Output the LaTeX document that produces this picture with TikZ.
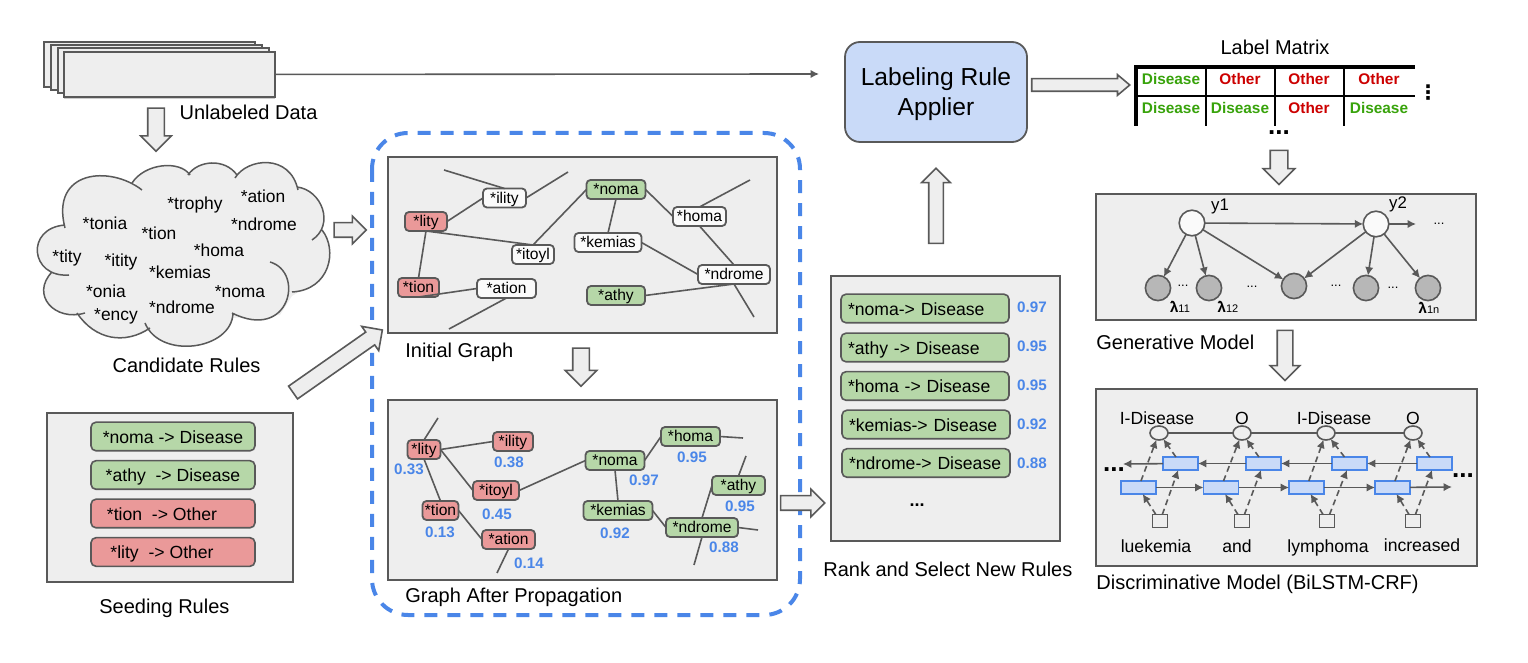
\documentclass[tikz,border=0pt]{standalone}
\usepackage{fontspec}
\setmainfont{Liberation Sans}
\newfontfamily\dvsans{DejaVu Sans}
\usepackage{xcolor}
\usepackage{tikz}
\usetikzlibrary{shapes,arrows,arrows.meta,positioning,shadows}

\definecolor{panelgray}{HTML}{EEEEEE}
\definecolor{edgegray}{HTML}{595959}
\definecolor{rulegreen}{HTML}{B6D7A8}
\definecolor{rulered}{HTML}{EA9999}
\definecolor{scoreblue}{HTML}{4A86E8}
\definecolor{paleblue}{HTML}{C9DAF8}
\definecolor{nodegray}{HTML}{B7B7B7}
\definecolor{matgreen}{HTML}{38A30B}
\definecolor{matred}{HTML}{CC0000}

\newcommand{\lambar}[1]{\textbf{\rlap{\raisebox{3.7pt}{\fontsize{4.5}{5}\selectfont -}}λ}{\fontsize{5.5}{6}\selectfont #1}}

\begin{document}
\begin{tikzpicture}[
    x=0.5pt, y=-0.5pt,
    panel/.style={draw=edgegray, fill=panelgray, line width=1pt, rectangle, inner sep=0pt, outer sep=0pt},
    sheet/.style={panel, minimum width=105.5pt, minimum height=22.5pt},
    caption/.style={inner sep=0pt, font=\fontsize{10}{12}\selectfont, text height=8.6pt, text depth=1.5pt},
    bigarrow/.style 2 args={draw=edgegray, fill=panelgray, line width=0.8pt, single arrow, inner sep=#1, outer sep=0pt, single arrow head extend=#2, single arrow tip angle=90},
    cloudline/.style={draw=edgegray, line width=0.75pt},
    cloudword/.style={inner sep=0pt, font=\fontsize{8.7}{10}\selectfont, text height=7.5pt, text depth=1pt},
    graphnode/.style={draw=edgegray, line width=0.9pt, rectangle, rounded corners=2pt, inner sep=0pt, outer sep=0pt, minimum height=9.5pt, font=\fontsize{7.8}{9}\selectfont, text height=6.3pt, text depth=1.1pt},
    whitenode/.style={graphnode, fill=white!70!panelgray},
    greennode/.style={graphnode, fill=rulegreen},
    rednode/.style={graphnode, fill=rulered},
    edge/.style={draw=edgegray, line width=0.8pt},
    score/.style={inner sep=0pt, text=scoreblue, font=\bfseries\fontsize{7.6}{9}\selectfont},
    rulebox/.style={draw=edgegray, line width=0.8pt, rectangle, rounded corners=2.5pt, inner sep=0pt, outer sep=0pt, minimum height=14.3pt, font=\fontsize{8.8}{10.5}\selectfont, text height=7.6pt, text depth=1pt},
    seedbox/.style={rulebox, minimum width=82pt},
    rankbox/.style={rulebox, fill=rulegreen, inner xsep=3.5pt, text width=77pt, align=left},
    cellword/.style={inner sep=0pt, font=\bfseries\fontsize{7.7}{9}\selectfont, text height=6.6pt, text depth=0pt},
    bigdots/.style={inner sep=0pt, font=\bfseries\fontsize{13}{13}\selectfont},
    minidots/.style={inner sep=0pt, font=\fontsize{6.5}{7}\selectfont},
    latent/.style={draw=edgegray, fill=white!70!panelgray, line width=0.8pt, circle, inner sep=0pt, outer sep=0pt, minimum size=12.8pt},
    observed/.style={draw=edgegray, fill=nodegray, line width=0.8pt, circle, inner sep=0pt, outer sep=0pt, minimum size=12.6pt},
    smallword/.style={inner sep=0pt, font=\fontsize{8.4}{10}\selectfont},
    lambdaword/.style={inner sep=0pt, font=\fontsize{7.5}{9}\selectfont},
    tagnode/.style={draw=edgegray, fill=panelgray, line width=0.8pt, ellipse, inner sep=0pt, outer sep=0pt, minimum width=9pt, minimum height=7pt},
    lstmcell/.style={draw=scoreblue, fill=paleblue, line width=0.9pt, rectangle, inner sep=0pt, outer sep=0pt, minimum width=17.5pt, minimum height=6.5pt},
    wordbox/.style={draw=edgegray, line width=0.8pt, rectangle, inner sep=0pt, outer sep=0pt, minimum width=7.5pt, minimum height=6.5pt},
    discword/.style={inner sep=0pt, font=\fontsize{8.8}{10}\selectfont, text height=7.6pt, text depth=1pt},
    arrow/.style={-{Latex[length=4.2pt,width=4.2pt]}, draw=edgegray, line width=0.8pt},
    dasharrow/.style={arrow, dash pattern=on 3pt off 2pt}
]
    \useasboundingbox (0,0) rectangle (1528,663);

    \draw[draw=scoreblue, line width=2pt, rounded corners=18pt, dash pattern=on 6.5pt off 5pt] (372,133) rectangle (800,615);

    \node[sheet] at (149,65) (sheetA) {};
    \node[sheet] at (156,68) (sheetB) {};
    \node[sheet] at (163,71) (sheetC) {};
    \node[sheet, drop shadow={shadow xshift=0.3pt, shadow yshift=-1pt, fill=black!40}] at (169,74.5) (sheetD) {};
    \node[caption] at (248.5,112) (datalabel) {Unlabeled Data};
    \node[bigarrow={3.75pt}{3.5pt}, minimum height=21.5pt, shape border rotate=270] at (156,125.5) (arrowdata) {};

    \fill[panelgray] (60,230) -- (100,190) -- (133,187) -- (145,172) -- (190,175) -- (237,175) -- (290,172) -- (300,192) -- (318,222) -- (328,255) -- (318,280) -- (292,296) -- (280,315) -- (232,318) -- (200,340) -- (150,330) -- (120,332) -- (80,312) -- (55,295) -- (55,272) -- (42,255) -- cycle;
    \draw[cloudline, fill=panelgray]
        (65,228) .. controls (50,170) and (110,165) .. (142,190)
        (132,183) .. controls (145,163) and (180,160) .. (190,175)
        (188,175) .. controls (198,160) and (225,158) .. (237,175)
        (235,178) .. controls (247,158) and (290,153) .. (298,190)
        (297,187) .. controls (322,190) and (335,225) .. (312,240)
        (322,230) .. controls (338,250) and (330,290) .. (292,292)
        (270,262) .. controls (305,272) and (290,342) .. (232,313)
        (233,313) .. controls (232,350) and (160,360) .. (145,323)
        (150,328) .. controls (125,345) and (95,340) .. (77,313)
        (85,313) .. controls (55,322) and (30,295) .. (52,272)
        (69,275) .. controls (30,278) and (25,228) .. (65,225);
    \node[cloudword] at (195,203) (wtrophy) {*trophy};
    \node[cloudword] at (263,196) (wation) {*ation};
    \node[cloudword] at (264,224) (wndromeA) {*ndrome};
    \node[cloudword] at (105,223) (wtonia) {*tonia};
    \node[cloudword] at (159,233) (wtion) {*tion};
    \node[cloudword] at (219,250) (whoma) {*homa};
    \node[cloudword] at (67,256) (wtity) {*tity};
    \node[cloudword] at (121,260) (witity) {*itity};
    \node[cloudword] at (180,272) (wkemias) {*kemias};
    \node[cloudword] at (106,291) (wonia) {*onia};
    \node[cloudword] at (240,291) (wnoma) {*noma};
    \node[cloudword] at (182,307) (wndromeB) {*ndrome};
    \node[cloudword] at (116,314) (wency) {*ency};
    \node[caption] at (186.5,365) (cloudlabel) {Candidate Rules};
    \node[bigarrow={3.25pt}{3.25pt}, minimum height=16pt] at (346.5,230) (arrowcloud) {};

    \node[panel, minimum width=123pt, minimum height=84.5pt] at (170,497.5) (seedpanel) {};
    \node[seedbox, fill=rulegreen] at (173,436.5) (seedA) {*noma -> Disease};
    \node[seedbox, fill=rulegreen] at (173,475) (seedB) {*athy\ \ -> Disease};
    \node[seedbox, fill=rulered] at (173,513.5) (seedC) {*tion\ \ -> Other\hspace*{11pt}};
    \node[seedbox, fill=rulered] at (173,552) (seedD) {*lity\ \ -> Other\hspace*{11pt}};
    \node[caption, below=7pt of seedpanel, xshift=-2.8pt] (seedlabel) {Seeding Rules};
    \node[bigarrow={3.5pt}{3.5pt}, minimum height=54.5pt, rotate=35] at (334.5,363.5) (arrowseed) {};

    \node[panel, minimum width=194.5pt, minimum height=88pt] at (582.5,245) (initpanel) {};
    \node[rednode, minimum width=21pt] at (426,221.5) (lityA) {*lity};
    \node[whitenode, minimum width=21.5pt] at (504.5,198) (ilityA) {*ility};
    \node[whitenode, minimum width=21pt] at (533,254.5) (itoylA) {*itoyl};
    \node[greennode, minimum width=29.5pt] at (616,189.5) (nomaA) {*noma};
    \node[whitenode, minimum width=26.5pt] at (699.5,216.5) (homaA) {*homa};
    \node[whitenode, minimum width=33.5pt] at (608,242.5) (kemiasA) {*kemias};
    \node[whitenode, minimum width=36pt] at (734,274.5) (ndromeA) {*ndrome};
    \node[greennode, minimum width=29pt] at (616,295.5) (athyA) {*athy};
    \node[rednode, minimum width=20.5pt] at (418.5,287.5) (tionA) {*tion};
    \node[whitenode, minimum width=29.5pt] at (506.5,288.5) (ationA) {*ation};

    \coordinate (freeA) at (444,170);
    \coordinate (freeB) at (568,172);
    \coordinate (freeC) at (449,329);
    \coordinate (freeD) at (750,180);
    \coordinate (freeE) at (754,317);
    \draw[edge] (freeA) -- (ilityA.north);
    \draw[edge] (freeB) -- (ilityA.east);
    \draw[edge] (lityA.east) -- (ilityA.west);
    \draw[edge] (lityA.south) -- (itoylA.north);
    \draw[edge] (lityA.south) -- (tionA.north);
    \draw[edge] (tionA.south) -- (ationA.west);
    \draw[edge] (ationA.south) -- (freeC);
    \draw[edge] (itoylA.north) -- (nomaA.west);
    \draw[edge] (nomaA.south) -- (kemiasA.north);
    \draw[edge] (nomaA.east) -- (homaA.west);
    \draw[edge] (homaA.north) -- (freeD);
    \draw[edge] (homaA.south) -- (ndromeA.north);
    \draw[edge] (kemiasA.east) -- (ndromeA.west);
    \draw[edge] (athyA.east) -- (ndromeA.south);
    \draw[edge] (ndromeA.south) -- (freeE);
    \node[caption, anchor=west] at (405,350) (initlabel) {Initial Graph};
    \node[bigarrow={3.75pt}{3.75pt}, minimum height=19pt, shape border rotate=270] at (581,363) (arrowinit) {};

    \node[panel, minimum width=194.5pt, minimum height=90pt] at (582.5,490) (proppanel) {};
    \node[rednode, minimum width=16.5pt] at (424,449.5) (lityB) {*lity};
    \node[rednode, minimum width=20pt] at (513,441.5) (ilityB) {*ility};
    \node[rednode, minimum width=23pt] at (496,490.5) (itoylB) {*itoyl};
    \node[greennode, minimum width=29.5pt] at (615,460.5) (nomaB) {*noma};
    \node[greennode, minimum width=29.5pt] at (690.5,436.5) (homaB) {*homa};
    \node[greennode, minimum width=34.5pt] at (618,510.5) (kemiasB) {*kemias};
    \node[greennode, minimum width=26.5pt] at (738.5,485.5) (athyB) {*athy};
    \node[greennode, minimum width=36pt] at (702,527.5) (ndromeB) {*ndrome};
    \node[rednode, minimum width=18pt] at (440.5,510.5) (tionB) {*tion};
    \node[rednode, minimum width=26.5pt] at (508.5,539.5) (ationB) {*ation};

    \coordinate (freeF) at (438,418);
    \coordinate (freeG) at (497,573);
    \coordinate (freeH) at (743,438);
    \coordinate (freeI) at (758,530);
    \coordinate (freeJ) at (746,456);
    \coordinate (freeK) at (694,565);
    \draw[edge] (lityB.north) -- (freeF);
    \draw[edge] (lityB.east) -- (ilityB.west);
    \draw[edge] (lityB.east) -- (itoylB.west);
    \draw[edge] (lityB.south) -- (tionB.north);
    \draw[edge] (tionB.east) -- (ationB.west);
    \draw[edge] (ationB.south) -- (freeG);
    \draw[edge] (itoylB.east) -- (nomaB.west);
    \draw[edge] (nomaB.east) -- (homaB.west);
    \draw[edge] (homaB.east) -- (freeH);
    \draw[edge] (nomaB.south) -- (kemiasB.north);
    \draw[edge] (kemiasB.east) -- (ndromeB.west);
    \draw[edge] (ndromeB.east) -- (freeI);
    \draw[edge] (athyB.north) -- (freeJ);
    \draw[edge] (athyB.west) -- (ndromeB.north);
    \draw[edge] (ndromeB.south) -- (freeK);

    \node[score] at (409,469) (scorelity) {0.33};
    \node[score] at (509,462) (scoreility) {0.38};
    \node[score] at (497,514) (scoreitoyl) {0.45};
    \node[score] at (644,480) (scorenoma) {0.97};
    \node[score] at (692,457) (scorehoma) {0.95};
    \node[score] at (740,506) (scoreathy) {0.95};
    \node[score] at (615,533) (scorekemias) {0.92};
    \node[score] at (724,547) (scorendrome) {0.88};
    \node[score] at (440,532) (scoretion) {0.13};
    \node[score] at (529,563) (scoreation) {0.14};
    \node[caption, anchor=west] at (405,595) (proplabel) {Graph After Propagation};
    \node[bigarrow={3.25pt}{3.25pt}, minimum height=22pt] at (799,503) (arrowprop) {};

    \node[panel, minimum width=114.5pt, minimum height=132.5pt] at (945.5,408.5) (rankpanel) {};
    \node[rankbox, minimum width=84pt] at (925,308.5) (rankA) {*noma-> Disease};
    \node[rankbox, minimum width=84pt] at (925,347.5) (rankB) {*athy -> Disease};
    \node[rankbox, minimum width=84pt] at (925,386) (rankC) {*homa -> Disease};
    \node[rankbox, minimum width=84pt] at (926,424.5) (rankD) {*kemias-> Disease};
    \node[rankbox, minimum width=84pt] at (926,463) (rankE) {*ndrome-> Disease};
    \node[score] at (1032,307) (scoreA) {0.97};
    \node[score] at (1032,346) (scoreB) {0.95};
    \node[score] at (1032,385) (scoreC) {0.95};
    \node[score] at (1032,424) (scoreD) {0.92};
    \node[score] at (1032,463) (scoreE) {0.88};
    \node[inner sep=0pt, font=\bfseries\fontsize{9}{9}\selectfont] at (917,505) (rankdots) {...};
    \node[caption, below=9pt of rankpanel, xshift=1.2pt] (ranklabel) {Rank and Select New Rules};
    \node[bigarrow={3.25pt}{3.5pt}, minimum height=37.5pt, shape border rotate=90] at (936,209.5) (arrowrank) {};

    \node[draw=edgegray, fill=paleblue, line width=0.9pt, rectangle, rounded corners=7.5pt, inner sep=0pt, outer sep=0pt, minimum width=91pt, minimum height=50pt, align=center, font=\fontsize{12.3}{15}\selectfont, text height=26pt, text depth=2pt] at (936,92) (applier) {Labeling Rule\\Applier};
    \coordinate (applierin) at (819,74);
    \draw[arrow] (sheetD) -- (applierin);
    \node[bigarrow={2.75pt}{2pt}, minimum height=49pt, single arrow tip angle=80] at (1077,85) (arrowapplier) {};

    \node[caption] at (1275,47) (matrixlabel) {Label Matrix};
    \draw[line width=2pt] (1134,67) -- (1415,67);
    \draw[line width=2pt] (1136,66) -- (1136,126);
    \draw[line width=1pt] (1137,96) -- (1415,96);
    \draw[line width=1pt] (1206,67) -- (1206,126);
    \draw[line width=1pt] (1275,67) -- (1275,126);
    \draw[line width=1pt] (1344,67) -- (1344,126);
    \node[cellword, text=matgreen] at (1171,78) (cellA) {Disease};
    \node[cellword, text=matred] at (1240,78) (cellB) {Other};
    \node[cellword, text=matred] at (1309,78) (cellC) {Other};
    \node[cellword, text=matred] at (1379,78) (cellD) {Other};
    \node[cellword, text=matgreen] at (1171,107) (cellE) {Disease};
    \node[cellword, text=matgreen] at (1240,107) (cellF) {Disease};
    \node[cellword, text=matred] at (1309,107) (cellG) {Other};
    \node[cellword, text=matgreen] at (1379,107) (cellH) {Disease};
    \node[inner sep=0pt, font=\dvsans\bfseries\fontsize{10}{10}\selectfont] at (1428,93) (rowdots) {⋮};
    \node[bigdots] at (1279,133) (coldots) {...};
    \node[bigarrow={4pt}{3.5pt}, minimum height=17pt, shape border rotate=270] at (1279,163) (arrowmatrix) {};

    \node[panel, minimum width=190pt, minimum height=63pt] at (1286,257) (genpanel) {};
    \node[latent] at (1192,223) (yA) {};
    \node[latent] at (1376,224) (yB) {};
    \node[observed] at (1158,288) (obsA) {};
    \node[observed] at (1209,288) (obsB) {};
    \node[observed] at (1294,286) (obsC) {};
    \node[observed] at (1366,288) (obsD) {};
    \node[observed] at (1428,288) (obsE) {};
    \coordinate (yout) at (1416,224);
    \draw[arrow] (yA) -- (yB);
    \draw[arrow] (yA) -- (obsA);
    \draw[arrow] (yA) -- (obsB);
    \draw[arrow] (yA) -- (obsC);
    \draw[arrow] (yB) -- (obsC);
    \draw[arrow] (yB) -- (obsD);
    \draw[arrow] (yB) -- (obsE);
    \draw[arrow] (yB) -- (yout);
    \node[smallword] at (1220,206) (ylabelA) {y1};
    \node[smallword] at (1398,204) (ylabelB) {y2};
    \node[minidots] at (1183,286) (gendotsA) {...};
    \node[minidots] at (1252,287) (gendotsB) {...};
    \node[minidots] at (1336,286) (gendotsC) {...};
    \node[minidots] at (1393,288) (gendotsD) {...};
    \node[minidots] at (1439,224) (gendotsE) {...};
    \node[lambdaword] at (1180,307) (lambdaA) {\lambar{11}};
    \node[lambdaword] at (1228,307) (lambdaB) {\lambar{12}};
    \node[lambdaword] at (1429,308) (lambdaC) {\lambar{1n}};
    \node[caption, anchor=west] at (1096,342) (genlabel) {Generative Model};
    \node[bigarrow={3.5pt}{3.5pt}, minimum height=25pt, shape border rotate=270] at (1285,351.5) (arrowgen) {};

    \node[panel, minimum width=190.5pt, minimum height=88.5pt] at (1286.5,477.5) (discpanel) {};
    \node[discword] at (1157,418) (tagA) {I-Disease};
    \node[discword] at (1242,418) (tagB) {O};
    \node[discword] at (1334,418) (tagC) {I-Disease};
    \node[discword] at (1413,418) (tagD) {O};
    \node[tagnode] at (1159,433) (crfA) {};
    \node[tagnode] at (1242,433) (crfB) {};
    \node[tagnode] at (1326,433) (crfC) {};
    \node[tagnode] at (1413,433) (crfD) {};
    \draw[edge] (crfA) -- (crfB);
    \draw[edge] (crfB) -- (crfC);
    \draw[edge] (crfC) -- (crfD);

    \node[lstmcell] at (1180.5,463.5) (backA) {};
    \node[lstmcell] at (1263.5,463.5) (backB) {};
    \node[lstmcell] at (1349.5,463.5) (backC) {};
    \node[lstmcell] at (1434.5,463.5) (backD) {};
    \node[lstmcell] at (1138.5,487.5) (foreA) {};
    \node[lstmcell] at (1221,487.5) (foreB) {};
    \node[lstmcell] at (1306.5,487.5) (foreC) {};
    \node[lstmcell] at (1392.5,487.5) (foreD) {};
    \node[wordbox] at (1160,521) (inputA) {};
    \node[wordbox] at (1242,521) (inputB) {};
    \node[wordbox] at (1327,521) (inputC) {};
    \node[wordbox] at (1413,521) (inputD) {};

    \coordinate (backout) at (1123,464);
    \coordinate (foreout) at (1452,487);
    \draw[arrow] (backD) -- (backC);
    \draw[arrow] (backC) -- (backB);
    \draw[arrow] (backB) -- (backA);
    \draw[arrow] (backA) -- (backout);
    \draw[arrow] (foreA) -- (foreB);
    \draw[arrow] (foreB) -- (foreC);
    \draw[arrow] (foreC) -- (foreD);
    \draw[arrow] (foreD) -- (foreout);

    \draw[dasharrow] (foreA) -- (crfA);
    \draw[dasharrow] (backA) -- (crfA);
    \draw[dasharrow] (inputA) -- (foreA);
    \draw[dasharrow] (inputA) -- (backA);
    \draw[dasharrow] (foreB) -- (crfB);
    \draw[dasharrow] (backB) -- (crfB);
    \draw[dasharrow] (inputB) -- (foreB);
    \draw[dasharrow] (inputB) -- (backB);
    \draw[dasharrow] (foreC) -- (crfC);
    \draw[dasharrow] (backC) -- (crfC);
    \draw[dasharrow] (inputC) -- (foreC);
    \draw[dasharrow] (inputC) -- (backC);
    \draw[dasharrow] (foreD) -- (crfD);
    \draw[dasharrow] (backD) -- (crfD);
    \draw[dasharrow] (inputD) -- (foreD);
    \draw[dasharrow] (inputD) -- (backD);

    \node[bigdots] at (1114,470) (discdotsA) {...};
    \node[bigdots] at (1463,476) (discdotsB) {...};
    \node[discword] at (1156,546) (wordA) {luekemia};
    \node[discword] at (1237,546) (wordB) {and};
    \node[discword] at (1328,546) (wordC) {lymphoma};
    \node[discword] at (1422,545) (wordD) {increased};
    \node[caption, anchor=west] at (1096,582) (disclabel) {Discriminative Model (BiLSTM-CRF)};
\end{tikzpicture}
\end{document}
